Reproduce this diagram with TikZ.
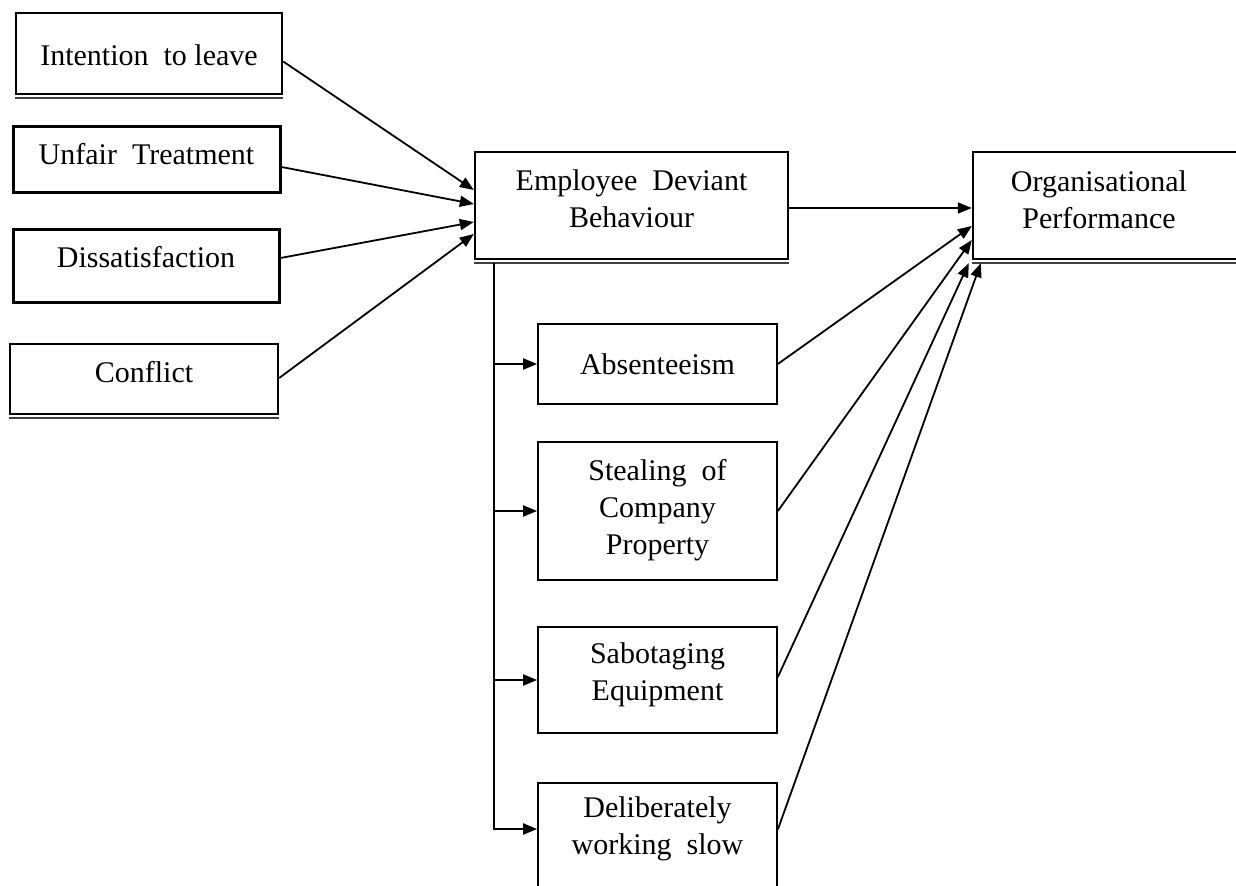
\documentclass[tikz,border=0pt]{standalone}
\usepackage{fontspec}
\setmainfont{Liberation Serif}
\usetikzlibrary{arrows.meta}
\begin{document}
\begin{tikzpicture}[x=0.5pt,y=-0.5pt,
  bigbox/.style={draw, line width=1.2pt, inner sep=0pt},
  subbox/.style={draw, line width=0.85pt, inner sep=0pt},
  lbl/.style={font=\fontsize{15}{18.5}\selectfont, align=center, inner sep=0pt},
  arr/.style={line width=0.9pt, -{Triangle[length=7pt,width=5.5pt]}},
  dbl/.style={line width=0.9pt, draw=black!75}]
\useasboundingbox (0,0) rectangle (1236,886);
\clip (0,0) rectangle (1236,886);
% left boxes
\node[bigbox, minimum width=133pt, minimum height=40.5pt] (itl) at (149,53.5) {};
\node[lbl] (itlt) at (149,55) {Intention\ \ to leave};
\draw[dbl] ([yshift=-1.3pt]itl.south west) -- ([yshift=-1.3pt]itl.south east);
\node[bigbox, line width=1.5pt, minimum width=133.5pt, minimum height=33pt] (ut) at (146.5,160) {};
\node[lbl] (utt) at (146.5,154) {Unfair\ \ Treatment};
\node[bigbox, line width=1.5pt, minimum width=133pt, minimum height=36.5pt] (ds) at (146,266.5) {};
\node[lbl] (dst) at (146,257) {Dissatisfaction};
\node[bigbox, minimum width=134pt, minimum height=35pt] (cf) at (144,379) {};
\node[lbl] (cft) at (144,372) {Conflict};
\draw[dbl] ([yshift=-1.3pt]cf.south west) -- ([yshift=-1.3pt]cf.south east);
% central boxes
\node[bigbox, minimum width=156.5pt, minimum height=53.5pt] (edb) at (631.5,205.5) {};
\node[lbl] (edbt) at (631.5,199) {Employee\ \ Deviant\\Behaviour};
\draw[dbl] ([yshift=-1.3pt]edb.south west) -- ([yshift=-1.3pt]edb.south east);
\node[bigbox, minimum width=138.5pt, minimum height=53.5pt] (op) at (1111.5,205.5) {};
\node[lbl] (opt) at (1099,200) {Organisational\\Performance};
\draw[dbl] ([yshift=-1.3pt]op.south west) -- ([yshift=-1.3pt]op.south east);
% sub boxes
\node[subbox, minimum width=119.5pt, minimum height=40pt] (ab) at (657.5,364) {};
\node[lbl] (abt) at (657.5,364) {Absenteeism};
\node[subbox, minimum width=119.5pt, minimum height=69pt] (st) at (657.5,511) {};
\node[lbl] (stt) at (657.5,510) {Stealing\ \ of\\Company\\Property};
\node[subbox, minimum width=119.5pt, minimum height=53pt] (sb) at (657.5,680) {};
\node[lbl] (sbt) at (657.5,675) {Sabotaging\\Equipment};
\node[subbox, minimum width=119.5pt, minimum height=58.5pt] (dl) at (657.5,841.5) {};
\node[lbl] (dlt) at (657.5,829) {Deliberately\\working\ \ slow};
% arrows into EDB
\draw[arr] ([yshift=-4pt]itl.east) -- ([yshift=7.75pt]edb.west);
\draw[arr] ([yshift=-3.5pt]ut.east) -- ([yshift=0.75pt]edb.west);
\draw[arr] ([yshift=4.25pt]ds.east) -- ([yshift=-8.25pt]edb.west);
\draw[arr] ([yshift=0.5pt]cf.east) -- ([yshift=-14.25pt]edb.west);
% EDB to OP
\draw[arr] ([yshift=-1.25pt]edb.east) -- ([yshift=-1.25pt]op.west);
% trunk
\coordinate (tr) at ([xshift=10pt,yshift=-1.3pt]edb.south west);
\draw[arr] (tr) |- (ab.west);
\draw[arr] (tr) |- (st.west);
\draw[arr] (tr) |- (sb.west);
\draw[arr] (tr) |- ([yshift=6.25pt]dl.west);
% subs to OP
\draw[arr] (ab.east) -- ([yshift=-10.25pt]op.west);
\draw[arr] (st.east) -- ([yshift=-17.25pt]op.west);
\draw[arr] ([yshift=1.5pt]sb.east) -- ([xshift=-1.5pt,yshift=-1.5pt]op.south west);
\draw[arr] ([yshift=6pt]dl.east) -- ([xshift=4.5pt,yshift=-1.5pt]op.south west);
\end{tikzpicture}
\end{document}
